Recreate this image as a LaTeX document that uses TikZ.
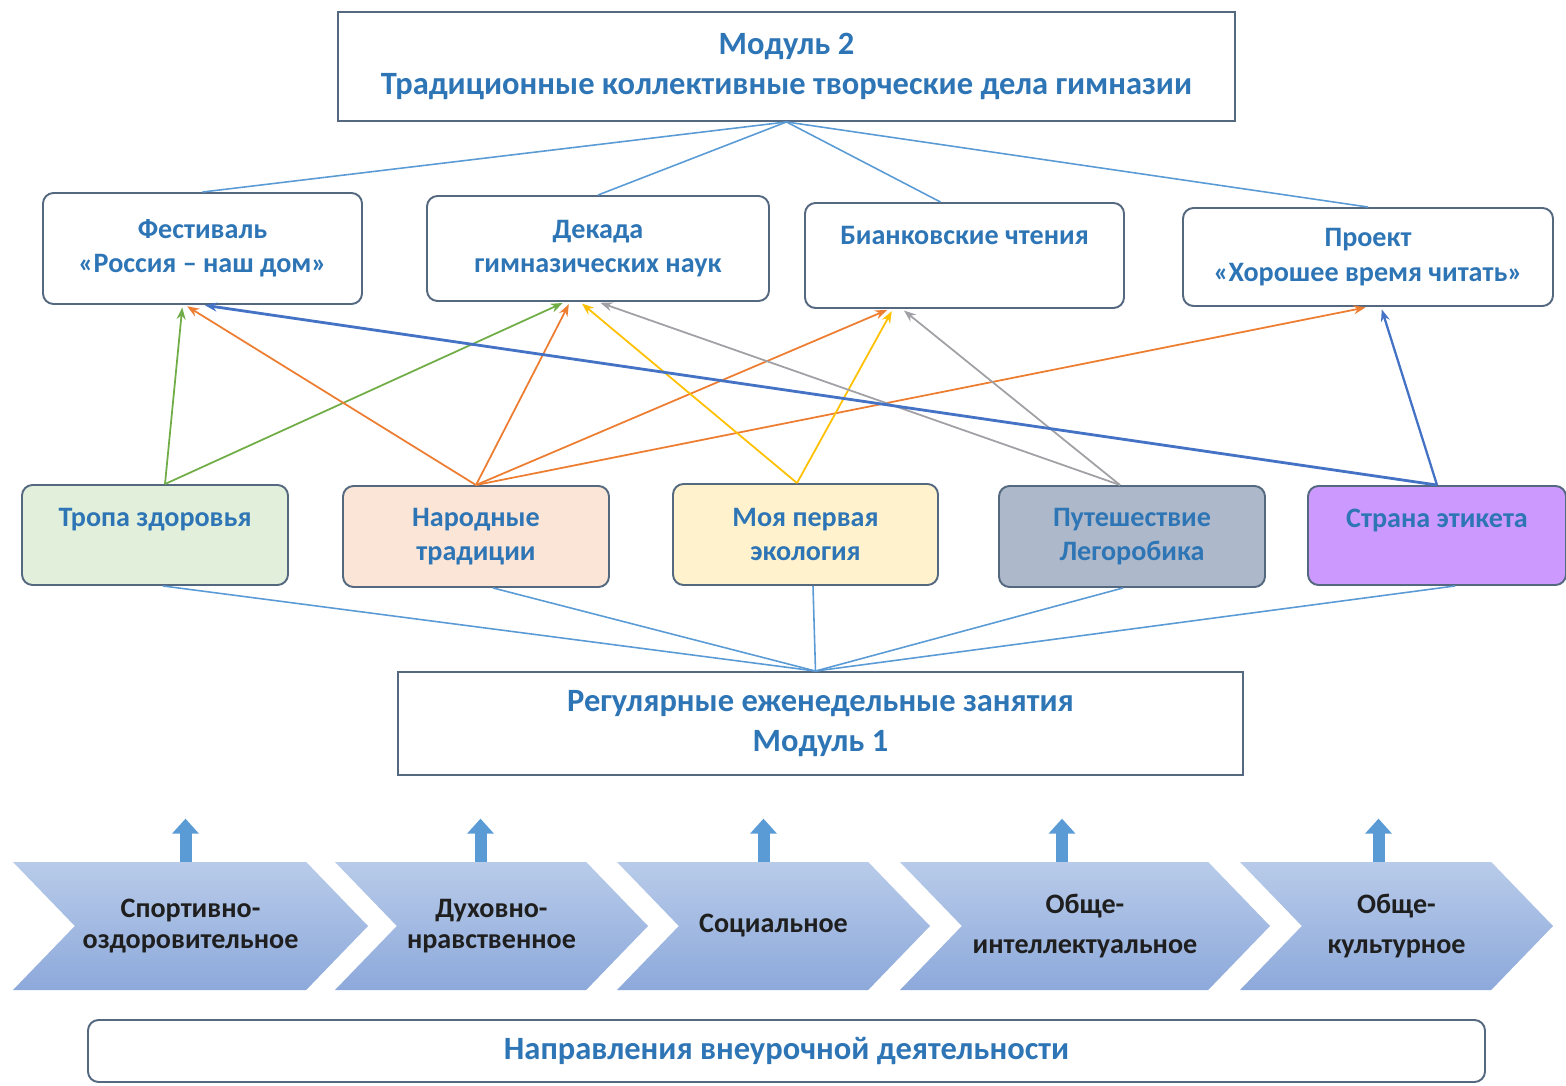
\documentclass[tikz,border=0pt]{standalone}
\usepackage{fontspec}
\setmainfont{Carlito}
\usepackage{tikz}
\usetikzlibrary{arrows.meta, positioning, shapes.symbols, calc}
\usepackage{xcolor}
\definecolor{edgegray}{RGB}{84,104,128}
\definecolor{textblue}{RGB}{46,117,182}
\definecolor{fanblue}{RGB}{91,155,213}
\definecolor{arrgreen}{RGB}{112,173,71}
\definecolor{arrorange}{RGB}{237,125,49}
\definecolor{arryellow}{RGB}{255,192,0}
\definecolor{arrgray}{RGB}{160,160,165}
\definecolor{arrblue}{RGB}{68,114,196}
\definecolor{fillgreen}{RGB}{226,239,218}
\definecolor{fillpeach}{RGB}{251,229,214}
\definecolor{fillyellow}{RGB}{255,242,204}
\definecolor{fillslate}{RGB}{173,185,202}
\definecolor{fillviolet}{RGB}{204,153,255}
\definecolor{chevtop}{RGB}{184,203,233}
\definecolor{chevbot}{RGB}{141,169,219}
\definecolor{upfill}{RGB}{91,155,213}
\tikzset{
    % Module boxes
    modbox/.style={rectangle, draw=edgegray, line width=1.1pt, fill=white, align=center,
                text=textblue, font=\fontsize{18.5}{23}\selectfont\bfseries},
    % Events of module 2
    evbox/.style={rectangle, rounded corners=6pt, draw=edgegray, line width=1.1pt, fill=#1,
                align=center, text=textblue, font=\fontsize{16}{19.5}\selectfont\bfseries},
    % Directions
    chev/.style={signal, signal from=west, signal to=east, signal pointer angle=92,
                top color=chevtop, bottom color=chevbot, draw=none, inner sep=0pt,
                minimum height=2.56cm, align=center,
                font=\fontsize{16}{17.5}\selectfont\bfseries, text=black!88},
    fanline/.style={line width=0.9pt, fanblue},
    linkarrow/.style={-{Stealth[length=2.4mm, width=1.8mm]}, line width=1pt, #1, shorten >=0.5mm},
    uparrow/.style={-{Triangle[width=0.52cm, length=0.3cm]}, line width=0.24cm, upfill},
}
\begin{document}
\begin{tikzpicture}
\useasboundingbox (0,0) rectangle (31.32,-21.72);

\node[modbox, minimum width=17.94cm, minimum height=2.18cm] (m2) at (15.73,-1.33)
    {Модуль 2\\Традиционные коллективные творческие дела гимназии};

\node[evbox=white, minimum width=6.38cm, minimum height=2.22cm] (fest) at (4.05,-4.97)
    {Фестиваль\\«Россия – наш дом»};
\node[evbox=white, minimum width=6.84cm, minimum height=2.10cm] (dek) at (11.96,-4.97)
    {Декада\\гимназических наук};
\node[evbox=white, minimum width=6.38cm, minimum height=2.10cm] (bian) at (19.29,-5.11)
    {Бианковские чтения\\[0.1cm]\mbox{}};
\node[evbox=white, minimum width=7.40cm, minimum height=1.96cm] (proj) at (27.36,-5.14)
    {Проект\\«Хорошее время читать»};

\node[evbox=fillgreen, minimum width=5.32cm, minimum height=2.00cm] (tropa) at (3.10,-10.70)
    {Тропа здоровья\\\mbox{}};
\node[evbox=fillpeach, minimum width=5.32cm, minimum height=2.02cm] (narod) at (9.52,-10.73)
    {Народные\\традиции};
\node[evbox=fillyellow, minimum width=5.30cm, minimum height=2.02cm] (eco) at (16.11,-10.69)
    {Моя первая\\экология};
\node[evbox=fillslate, minimum width=5.32cm, minimum height=2.02cm] (lego) at (22.64,-10.73)
    {Путешествие\\Легоробика};
\node[evbox=fillviolet, minimum width=5.16cm, minimum height=1.98cm] (etik) at (28.74,-10.71)
    {Страна этикета\\\mbox{}};

\node[modbox, minimum width=16.90cm, minimum height=2.06cm] (m1) at (16.41,-14.47)
    {Регулярные еженедельные занятия\\Модуль 1};

% module 2 fan
\draw[fanline] (m2.south) -- (fest.north);
\draw[fanline] (m2.south) -- (dek.north);
\draw[fanline] (m2.south) -- ([xshift=-4.8mm]bian.north);
\draw[fanline] (m2.south) -- (proj.north);

% module 1 fan
\draw[fanline] ([xshift=-1mm]m1.north) -- ([xshift=1.6mm]tropa.south);
\draw[fanline] ([xshift=-1mm]m1.north) -- ([xshift=3.4mm]narod.south);
\draw[fanline] ([xshift=-1mm]m1.north) -- ([xshift=1.5mm]eco.south);
\draw[fanline] ([xshift=-1mm]m1.north) -- ([xshift=-1.8mm]lego.south);
\draw[fanline] ([xshift=-1mm]m1.north) -- ([xshift=3.6mm]etik.south);

% links
\draw[linkarrow=arrgreen] ([xshift=2mm]tropa.north) -- ([xshift=-4mm]fest.south);
\draw[linkarrow=arrgreen] ([xshift=2mm]tropa.north) -- ([xshift=-6.6mm]dek.south);
\draw[linkarrow=arrorange] (narod.north) -- ([xshift=-3.5mm]fest.south);
\draw[linkarrow=arrorange] (narod.north) -- ([xshift=-5.6mm]dek.south);
\draw[linkarrow=arrorange] (narod.north) -- ([xshift=-15mm]bian.south);
\draw[linkarrow=arrorange] (narod.north) -- (proj.south);
\draw[linkarrow=arryellow] ([xshift=-1.7mm]eco.north) -- ([xshift=-3.6mm]dek.south);
\draw[linkarrow=arryellow] ([xshift=-1.7mm]eco.north) -- ([xshift=-14.3mm]bian.south);
\draw[linkarrow=arrgray] ([xshift=-2.4mm]lego.north) -- (dek.south);
\draw[linkarrow=arrgray] ([xshift=-2.4mm]lego.north) -- ([xshift=-12.5mm]bian.south);
\draw[linkarrow=arrblue, line width=1.6pt] (etik.north) -- (fest.south);
\draw[linkarrow=arrblue, line width=1.3pt] (etik.north) -- ([xshift=2.6mm]proj.south);

% directions
\node[chev, minimum width=7.10cm] (ch1) at (3.81,-18.52) {Спортивно-\\оздоровительное};
\node[chev, minimum width=6.26cm] (ch2) at (9.83,-18.52) {Духовно-\\нравственное};
\node[chev, minimum width=6.26cm] (ch3) at (15.47,-18.52) {Социальное};
\node[chev, minimum width=7.40cm] (ch4) at (21.70,-18.52) {Обще-\\[0.2cm]интеллектуальное};
\node[chev, minimum width=6.26cm] (ch5) at (27.93,-18.52) {Обще-\\[0.2cm]культурное};

\draw[uparrow] ([xshift=-1mm]ch1.north) -- ++(0,0.86);
\draw[uparrow] ([xshift=-2.2mm]ch2.north) -- ++(0,0.86);
\draw[uparrow] ([xshift=-2mm]ch3.north) -- ++(0,0.86);
\draw[uparrow] ([xshift=-4.6mm]ch4.north) -- ++(0,0.86);
\draw[uparrow] ([xshift=-3.6mm]ch5.north) -- ++(0,0.86);

\node[evbox=white, minimum width=27.94cm, minimum height=1.24cm,
      font=\fontsize{18.5}{23}\selectfont\bfseries] (dir) at (15.73,-21.02)
    {Направления внеурочной деятельности};
\end{tikzpicture}
\end{document}
